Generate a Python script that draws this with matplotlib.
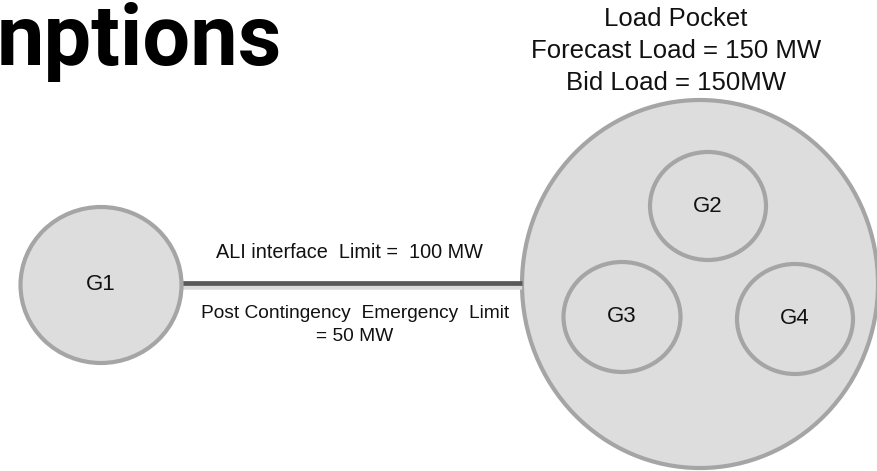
import matplotlib
matplotlib.use("Agg")
import matplotlib.pyplot as plt
from matplotlib.patches import Ellipse

# ---- content ----
title_text = "nptions"
pocket_lines = ["Load Pocket", "Forecast Load = 150 MW", "Bid Load = 150MW"]
line_label_top = "ALI interface  Limit =  100 MW"
line_label_bottom = "Post Contingency  Emergency  Limit\n= 50 MW"
node_names = ["G1", "G2", "G3", "G4"]

# ---- layout (pixel coordinates, origin top-left) ----
W, H = 877, 471
node_centers = {"G1": (101, 285), "G2": (708, 206), "G3": (622, 317), "G4": (795, 319)}
node_sizes = {"G1": (161, 156), "G2": (116, 108), "G3": (117, 110), "G4": (116, 110)}
pocket_center = (700, 284)
pocket_size = (356, 368)

fill = "#dddddd"
edge = "#a5a5a5"
link_color = "#585858"
font = ["Liberation Sans", "DejaVu Sans"]
title_font = ["Roboto", "Liberation Sans", "DejaVu Sans"]

fig = plt.figure(figsize=(W / 100, H / 100), dpi=100)
ax = fig.add_axes([0, 0, 1, 1])
ax.set_xlim(0, W)
ax.set_ylim(H, 0)
ax.axis("off")

# load pocket
ax.add_patch(Ellipse(pocket_center, pocket_size[0], pocket_size[1],
                     facecolor=fill, edgecolor=edge, linewidth=3, zorder=1))

# link with faint shadow
x0 = node_centers["G1"][0] + node_sizes["G1"][0] / 2
x1 = pocket_center[0] - pocket_size[0] / 2
ax.plot([x0, x1], [286.5, 286.5], color="#dadada", linewidth=4, solid_capstyle="butt", zorder=2)
ax.plot([x0, x1], [283, 283], color=link_color, linewidth=3.4, solid_capstyle="butt", zorder=3)

# nodes
for name in node_names:
    cx, cy = node_centers[name]
    w, h = node_sizes[name]
    ax.add_patch(Ellipse((cx, cy), w, h, facecolor=fill, edgecolor=edge,
                         linewidth=3, zorder=4))
    ax.text(cx, cy, name, ha="center", va="center", fontsize=16,
            family=font, color="#111111", zorder=5)

# title
ax.text(-3, 65, title_text, ha="left", va="baseline", fontsize=61,
        fontweight="bold", family=title_font, color="black")

# load pocket text
for i, s in enumerate(pocket_lines):
    ax.text(676, 19 + i * 32, s, ha="center", va="center", fontsize=18.5,
            family=font, color="#111111")

# link labels
ax.text(349, 253, line_label_top, ha="center", va="center", fontsize=14.3,
        family=font, color="#111111")
ax.text(355, 325, line_label_bottom, ha="center", va="center", fontsize=13.8,
        family=font, color="#111111", linespacing=1.4)

fig.savefig("out.png", dpi=100)
